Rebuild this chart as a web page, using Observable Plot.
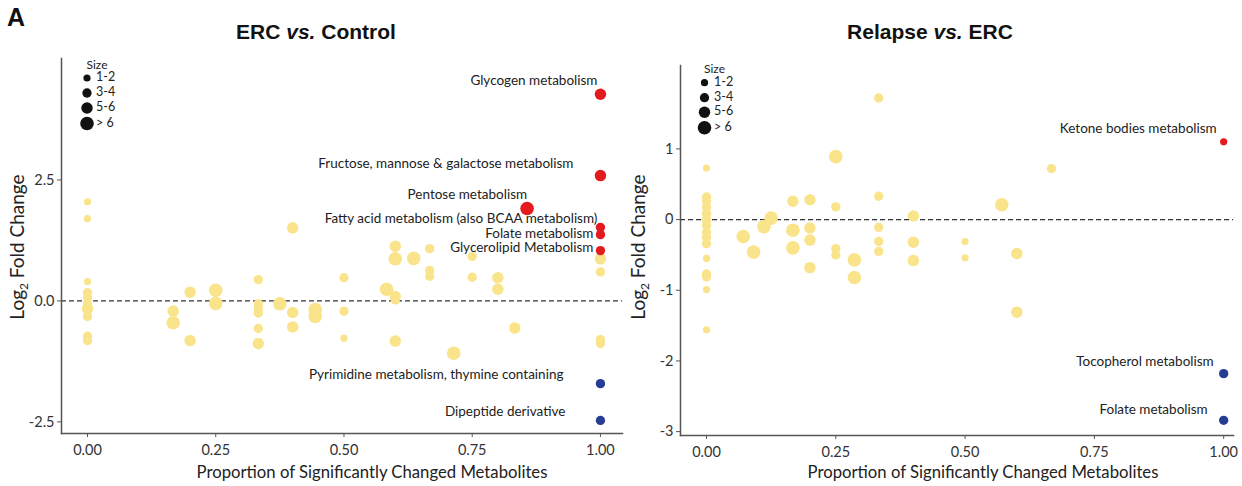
<!DOCTYPE html>
<html>
<head>
<meta charset="utf-8">
<script src="https://cdn.jsdelivr.net/npm/d3@7"></script>
<script src="https://cdn.jsdelivr.net/npm/@observablehq/plot@0.6"></script>
<style>
  body { margin: 0; background: #fff; }
  #wrap { position: relative; width: 1242px; height: 486px; overflow: hidden; font-family: Lato, "Open Sans", sans-serif; color: #222; }
  .panel { position: absolute; top: 0; }
  .title { position: absolute; font-family: "Liberation Sans Narrow", "Liberation Sans", Arial, sans-serif; font-weight: bold; font-size: 21px; transform: translate(-50%, -50%); white-space: nowrap; color: #111; }
  .tag { position: absolute; left: 7px; top: 5px; line-height: 1; font-family: "Liberation Sans Narrow", "Liberation Sans", Arial, sans-serif; font-weight: bold; font-size: 25px; color: #111; }
  .xlab { position: absolute; font-size: 16.7px; transform: translate(-50%, -50%); white-space: nowrap; color: #222; }
  .ylab { position: absolute; font-size: 19px; line-height: 1; transform: translate(-50%, -50%) rotate(-90deg); white-space: nowrap; color: #222; }
  .ylab sub { font-size: 12px; line-height: 0; }
  .legend { position: absolute; left: 0; top: 0; pointer-events: none; }
</style>
</head>
<body>
<div id="wrap"></div>
<script>
// ---------------- DATA ----------------
const xTicks = [0, 0.25, 0.5, 0.75, 1];
const sizeClasses = ["1-2", "3-4", "5-6", "> 6"];

// ERC vs. Control : non-significant pathways (yellow)
const ercNsX = [0,0,0,0,0,0,0,0,0,0, 0.167,0.167, 0.2,0.2, 0.25,0.25, 0.333,0.333,0.333,0.333,0.333,0.333, 0.375, 0.4,0.4,0.4, 0.444,0.444, 0.5,0.5,0.5, 0.583, 0.6,0.6,0.6,0.6,0.6, 0.636, 0.667,0.667,0.667, 0.714, 0.75,0.75, 0.8,0.8, 0.833, 1,1,1,1];
const ercNsY = [2.05,1.7,0.40,0.17,0.07,-0.06,-0.16,-0.32,-0.73,-0.82, -0.21,-0.45, 0.18,-0.82, 0.22,-0.05, 0.44,-0.06,-0.16,-0.25,-0.57,-0.88, -0.06, 1.51,-0.24,-0.54, -0.18,-0.32, 0.48,-0.21,-0.77, 0.24, 1.13,0.87,0.09,0.02,-0.83, 0.88, 1.08,0.63,0.51, -1.08, 0.92,0.49, 0.48,0.24, -0.56, 0.87,0.60,-0.80,-0.88];
const ercNsSize = [1,1,1,2,2,2,3,2,2,2, 3,4, 3,3, 4,4, 2,2,2,2,2,3, 4, 3,3,3, 4,4, 2,2,1, 4, 3,4,3,2,3, 4, 2,2,2, 4, 2,2, 3,3, 3, 3,2,2,2];
// ERC vs. Control : significant pathways
const ercSigLabel = ["Glycogen metabolism", "Fructose, mannose & galactose metabolism", "Pentose metabolism", "Fatty acid metabolism (also BCAA metabolism)", "Folate metabolism", "Glycerolipid Metabolism", "Pyrimidine metabolism, thymine containing", "Dipeptide derivative"];
const ercSigX = [1, 1, 0.857, 1, 1, 1, 1, 1];
const ercSigY = [4.27, 2.59, 1.91, 1.52, 1.37, 1.04, -1.71, -2.47];
const ercSigSize = [3, 3, 4, 2, 2, 2, 2, 2];
const ercSigDir = ["up", "up", "up", "up", "up", "up", "down", "down"];

// Relapse vs. ERC : non-significant pathways (yellow)
const relNsX = [0,0,0,0,0,0,0,0,0,0,0,0,0,0,0, 0.071, 0.091, 0.111, 0.125, 0.167,0.167,0.167, 0.2,0.2,0.2,0.2, 0.25,0.25,0.25,0.25, 0.286,0.286, 0.333,0.333,0.333,0.333,0.333, 0.4,0.4,0.4, 0.5,0.5, 0.571, 0.6,0.6, 0.667];
const relNsY = [0.73,0.32,0.26,0.17,0.08,0.0,-0.08,-0.18,-0.25,-0.34,-0.55,-0.77,-0.81,-0.99,-1.56, -0.24, -0.46, -0.10, 0.02, 0.26,-0.15,-0.40, 0.28,-0.12,-0.29,-0.68, 0.89,0.18,-0.41,-0.50, -0.57,-0.82, 1.72,0.33,-0.11,-0.31,-0.45, 0.05,-0.32,-0.58, -0.31,-0.54, 0.21, -0.48,-1.31, 0.72];
const relNsSize = [1,2,2,2,2,2,2,2,2,2,1,2,2,1,1, 4, 4, 4, 4, 3,4,4, 3,3,3,3, 4,2,2,2, 4,4, 2,2,2,2,2, 3,3,3, 1,1, 4, 3,3, 2];
// Relapse vs. ERC : significant pathways
const relSigLabel = ["Ketone bodies metabolism", "Tocopherol metabolism", "Folate metabolism"];
const relSigX = [1, 1, 1];
const relSigY = [1.10, -2.18, -2.84];
const relSigSize = [1, 2, 2];
const relSigDir = ["up", "down", "down"];

// ---------------- STYLE ----------------
const YELLOW = "#F9E48B", RED = "#E31B1F", BLUE = "#263D94";
const rScale = {type: "linear", domain: [1, 4], range: [3.6, 6.8]};
const labelNudge = { // offset of label end from its point (like ggrepel)
  "Glycogen metabolism": [-3, -14],
  "Fructose, mannose & galactose metabolism": [-27, -12],
  "Pentose metabolism": [0, -14],
  "Fatty acid metabolism (also BCAA metabolism)": [-3, -9],
  "Folate metabolism|erc": [-7, -1],
  "Glycerolipid Metabolism": [-7, -3],
  "Pyrimidine metabolism, thymine containing": [-37, -9],
  "Dipeptide derivative": [-35, -9],
  "Ketone bodies metabolism": [-7, -13],
  "Tocopherol metabolism": [-10, -12],
  "Folate metabolism|rel": [-16, -11]
};

function table(xs, ys, sizes, extra = {}) {
  return xs.map((x, i) => {
    const row = {x, y: ys[i], size: sizes[i]};
    for (const k in extra) row[k] = extra[k][i];
    return row;
  });
}

function panel({ns, sig, key, width, marginLeft, marginRight, marginTop, marginBottom, xDomain, yDomain, yTicks, yFormat}) {
  const labelMarks = sig.map(d => {
    const n = labelNudge[d.label + "|" + key] || labelNudge[d.label];
    return Plot.text([d], {x: "x", y: "y", text: "label", textAnchor: "end", dx: n[0], dy: n[1], fontSize: 13.5, fill: "#222", fontFamily: "Lato"});
  });
  return Plot.plot({
    width, height: 486,
    marginLeft, marginRight, marginTop, marginBottom,
    style: {fontFamily: "Lato, sans-serif", fontSize: "14px", color: "#333", background: "transparent"},
    x: {domain: xDomain, label: null},
    y: {domain: yDomain, label: null},
    r: rScale,
    color: {domain: ["up", "down"], range: [RED, BLUE]},
    marks: [
      Plot.ruleY([0], {stroke: "#333", strokeWidth: 1.2, strokeDasharray: "5,3"}),
      Plot.dot(ns, {x: "x", y: "y", r: "size", fill: YELLOW}),
      Plot.dot(sig, {x: "x", y: "y", r: "size", fill: "dir"}),
      ...labelMarks,
      Plot.axisX({ticks: xTicks, tickFormat: d => d.toFixed(2), tickSize: 4, tickPadding: 7, fontSize: 14.5, label: null, stroke: "#555"}),
      Plot.axisY({ticks: yTicks, tickFormat: yFormat, tickSize: 4, tickPadding: 3, fontSize: 14.5, label: null, stroke: "#555"}),
      Plot.frame({anchor: "left", stroke: "#555", strokeWidth: 1.5}),
      Plot.frame({anchor: "bottom", stroke: "#555", strokeWidth: 1.5})
    ]
  });
}

const wrap = document.getElementById("wrap");

// left panel
const left = panel({
  ns: table(ercNsX, ercNsY, ercNsSize),
  sig: table(ercSigX, ercSigY, ercSigSize, {dir: ercSigDir, label: ercSigLabel}),
  key: "erc",
  width: 631, marginLeft: 61, marginRight: 9, marginTop: 58, marginBottom: 53,
  xDomain: [-0.0507, 1.043], yDomain: [-2.74, 5.01],
  yTicks: [-2.5, 0, 2.5], yFormat: d => d.toFixed(1).replace("−", "-")
});
left.classList.add("panel");
left.style.left = "0px";
wrap.appendChild(left);

// right panel
const right = panel({
  ns: table(relNsX, relNsY, relNsSize),
  sig: table(relSigX, relSigY, relSigSize, {dir: relSigDir, label: relSigLabel}),
  key: "rel",
  width: 617, marginLeft: 55, marginRight: 9, marginTop: 65, marginBottom: 51,
  xDomain: [-0.0503, 1.019], yDomain: [-3.055, 2.18],
  yTicks: [-3, -2, -1, 0, 1], yFormat: d => String(d)
});
right.classList.add("panel");
right.style.left = "625px";
wrap.appendChild(right);

// titles & axis titles
function addDiv(cls, html, x, y) {
  const d = document.createElement("div");
  d.className = cls; d.innerHTML = html;
  d.style.left = x + "px"; d.style.top = y + "px";
  wrap.appendChild(d);
}
const tag = document.createElement("div"); tag.className = "tag"; tag.textContent = "A"; wrap.appendChild(tag);
addDiv("title", "ERC <i>vs.</i> Control", 316, 32);
addDiv("title", "Relapse <i>vs.</i> ERC", 930, 32);
addDiv("xlab", "Proportion of Significantly Changed Metabolites", 372, 472);
addDiv("xlab", "Proportion of Significantly Changed Metabolites", 983, 472);
addDiv("ylab", "Log<sub>2</sub> Fold Change", 16, 247);
addDiv("ylab", "Log<sub>2</sub> Fold Change", 637, 247);

// size legends
const rFn = d3.scaleLinear(rScale.domain, rScale.range);
function legend(x0, yTitle, ys, textX) {
  const svg = d3.select(wrap).append("svg").attr("class", "legend").attr("width", 1242).attr("height", 486);
  svg.append("text").attr("x", x0 + 10).attr("y", yTitle).attr("text-anchor", "middle").attr("dominant-baseline", "middle")
    .attr("font-family", "Lato").attr("font-size", 12).attr("fill", "#222").text("Size");
  sizeClasses.forEach((s, i) => {
    svg.append("circle").attr("cx", x0).attr("cy", ys[i]).attr("r", rFn(i + 1)).attr("fill", "#111");
    svg.append("text").attr("x", textX).attr("y", ys[i]).attr("dominant-baseline", "middle")
      .attr("font-family", "Lato").attr("font-size", 12.5).attr("fill", "#222").text(s);
  });
}
legend(87, 65.5, [78, 93, 108, 123.5], 96);
legend(704.5, 70, [82.7, 97.7, 112.3, 127.7], 714);
</script>
</body>
</html>
